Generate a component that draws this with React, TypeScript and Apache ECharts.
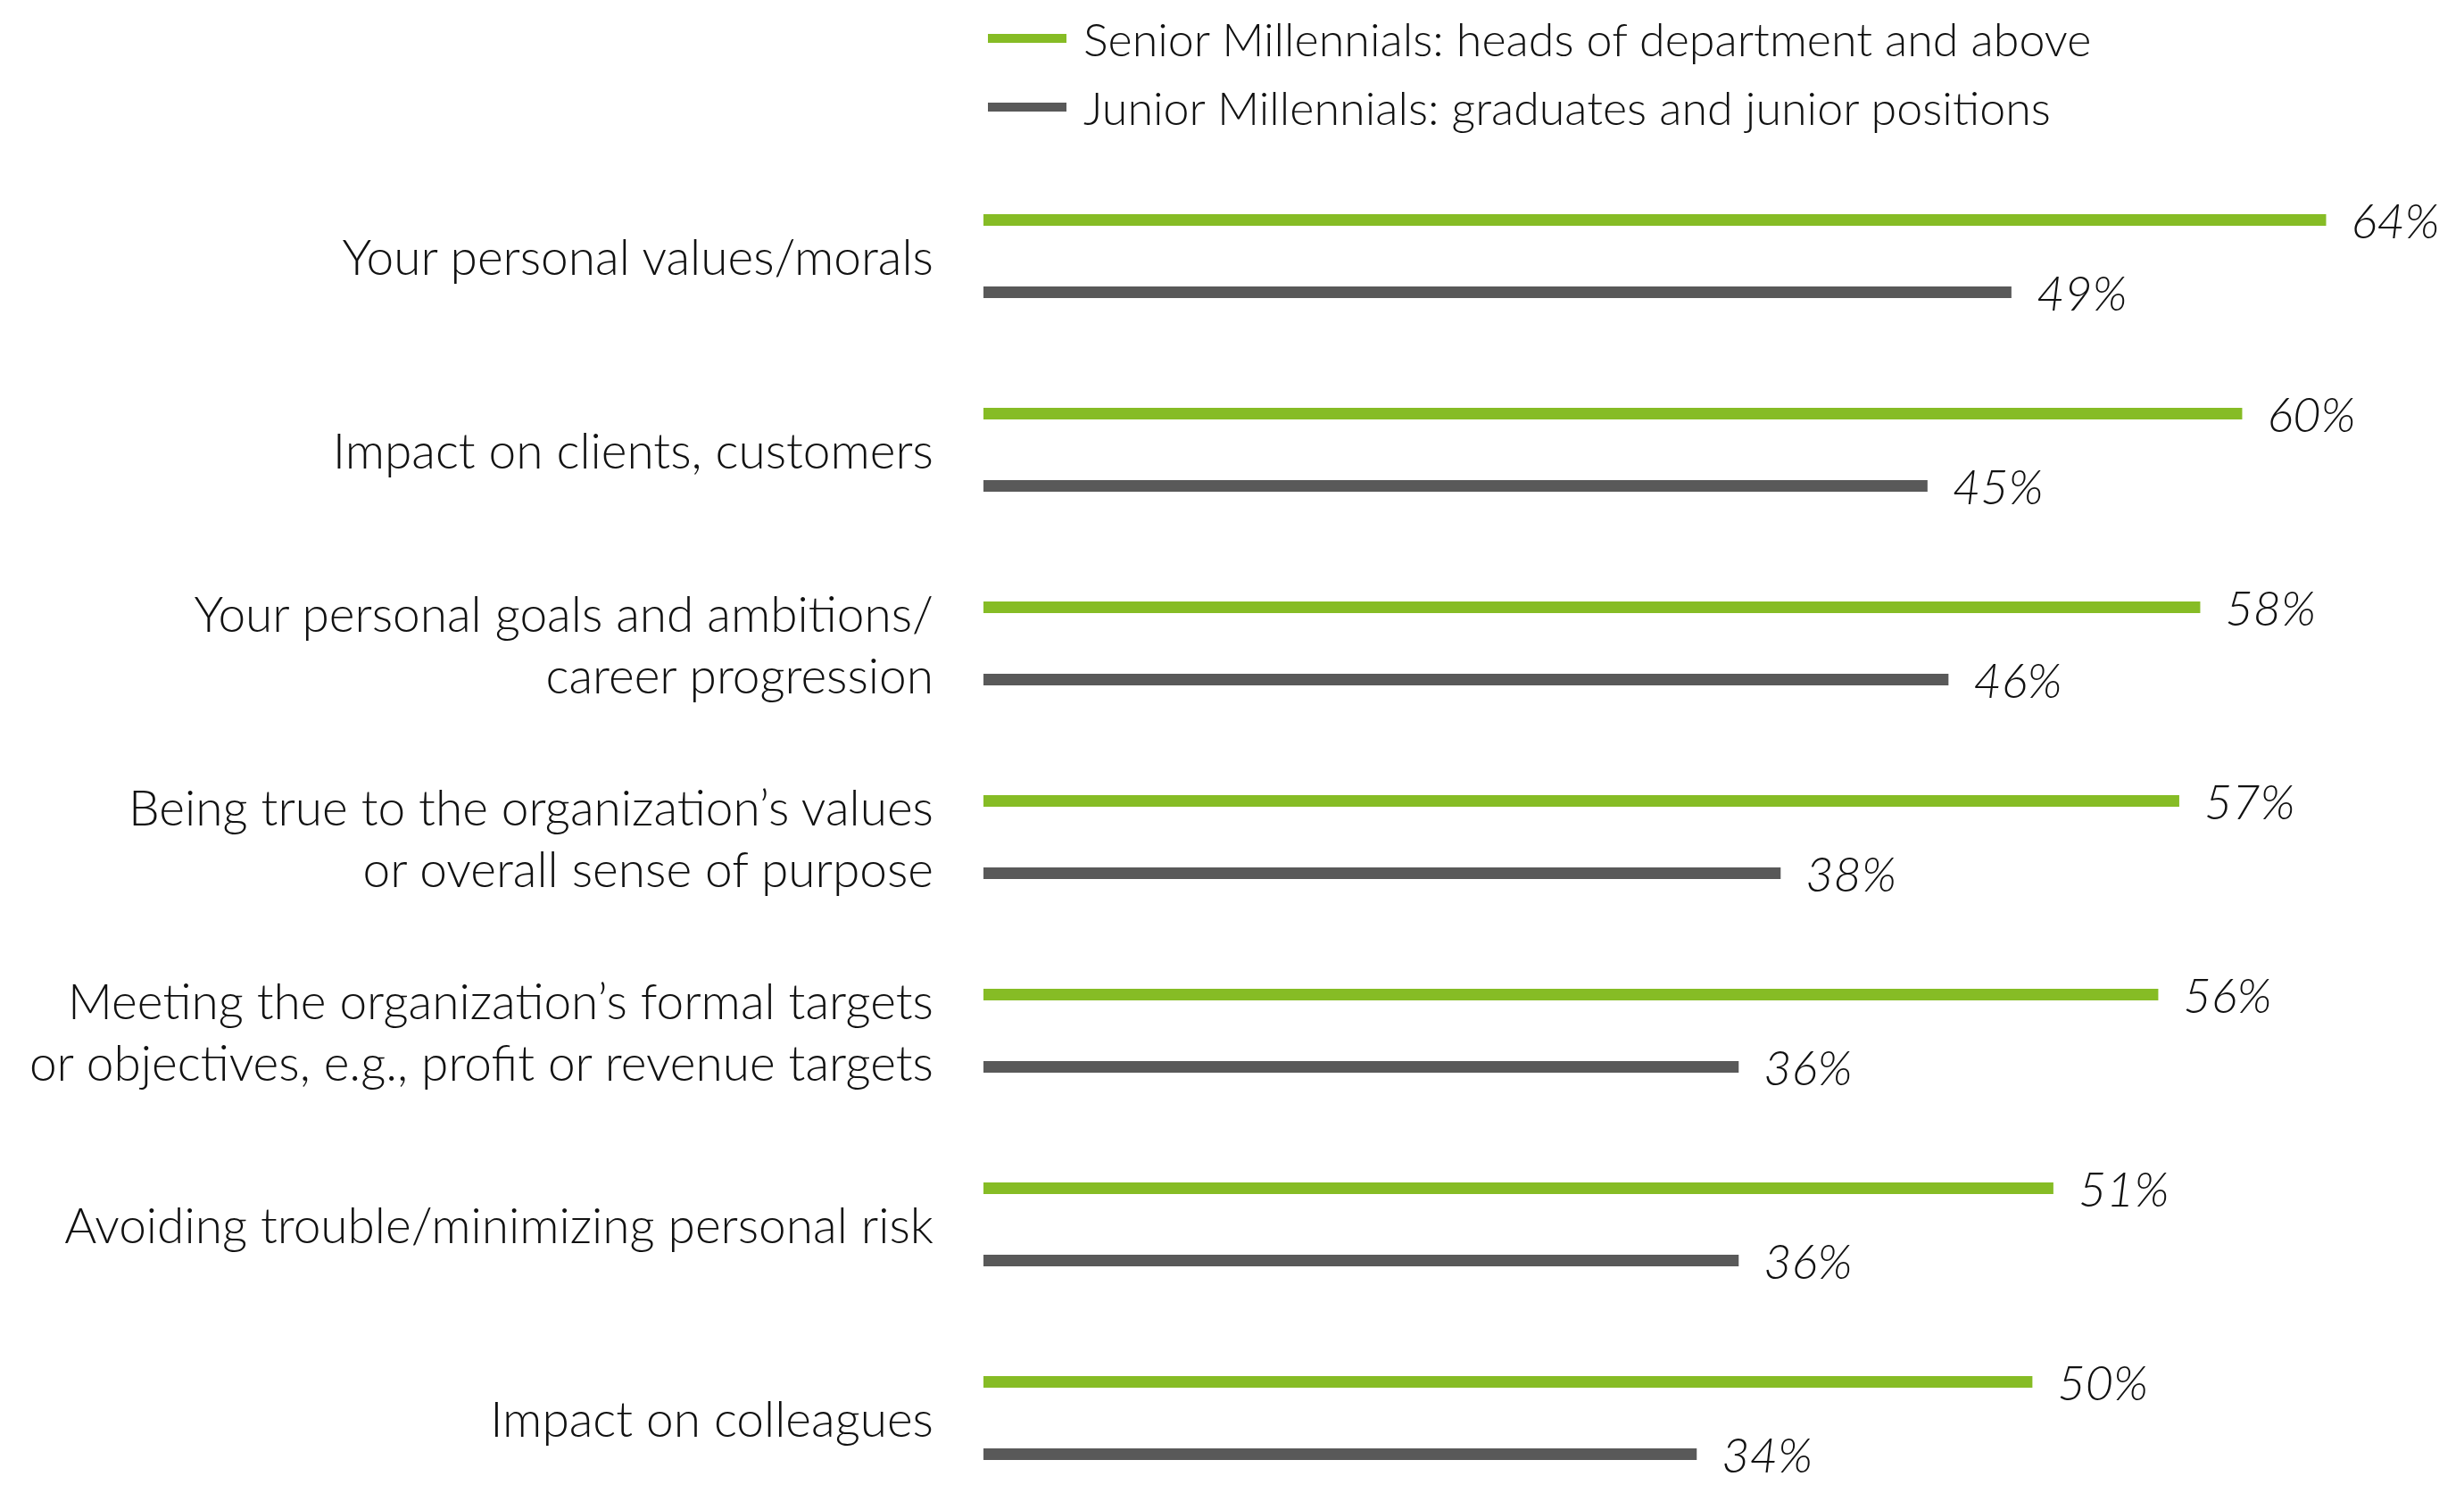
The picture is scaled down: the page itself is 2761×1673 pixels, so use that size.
import React, { useEffect, useRef } from "react";
import * as echarts from "echarts";

const categories = [
  "Your personal values/morals",
  "Impact on clients, customers",
  "Your personal goals and ambitions/\ncareer progression",
  "Being true to the organization’s values\nor overall sense of purpose",
  "Meeting the organization’s formal targets\nor objectives, e.g., profit or revenue targets",
  "Avoiding trouble/minimizing personal risk",
  "Impact on colleagues",
];
const seniorName = "Senior Millennials: heads of department and above";
const juniorName = "Junior Millennials: graduates and junior positions";
const seniorValues = [64, 60, 58, 57, 56, 51, 50];
const juniorValues = [49, 45, 46, 38, 36, 36, 34];

const GREEN = "#86bc25";
const GRAY = "#595959";
const FONT = "Lato";

export default function App() {
  const ref = useRef<HTMLDivElement>(null);
  useEffect(() => {
    if (!ref.current) return;
    const chart = echarts.init(ref.current, undefined, { renderer: "svg" });
    const labelCfg = {
      show: true,
      position: "right",
      distance: 28,
      formatter: "{c}%",
      fontFamily: FONT,
      fontStyle: "italic",
      fontWeight: 300,
      fontSize: 54,
      color: "#111111",
    };
    chart.setOption({
      animation: false,
      backgroundColor: "#ffffff",
      legend: {
        orient: "vertical",
        left: 1102,
        top: 12,
        itemWidth: 88,
        itemHeight: 10,
        itemGap: 25,
        icon: "rect",
        textStyle: {
          fontFamily: FONT,
          fontWeight: 300,
          fontSize: 52,
          lineHeight: 52,
          color: "#111111",
          padding: [0, 0, 0, 14],
        },
        data: [seniorName, juniorName],
      },
      grid: { left: 1102, top: 287, width: 1528, height: 1302, containLabel: false },
      xAxis: {
        type: "value",
        min: 0,
        max: 65,
        show: false,
        splitLine: { show: false },
      },
      yAxis: {
        type: "category",
        inverse: true,
        boundaryGap: false,
        data: categories,
        axisLine: { show: false },
        axisTick: { show: false },
        splitLine: { show: false },
        axisLabel: {
          margin: 56,
          fontFamily: FONT,
          fontWeight: 300,
          fontSize: 55,
          lineHeight: 69,
          color: "#111111",
          align: "right",
        },
      },
      series: [
        {
          name: seniorName,
          type: "bar",
          data: seniorValues,
          barWidth: 13,
          barGap: "523%",
          clip: false,
          itemStyle: { color: GREEN },
          label: labelCfg,
        },
        {
          name: juniorName,
          type: "bar",
          data: juniorValues,
          barWidth: 13,
          barGap: "523%",
          clip: false,
          itemStyle: { color: GRAY },
          label: labelCfg,
        },
      ],
    });
    return () => chart.dispose();
  }, []);
  return (
    <div
      ref={ref}
      style={{ position: "fixed", left: 0, top: 0, width: 2761, height: 1673 }}
    />
  );
}
